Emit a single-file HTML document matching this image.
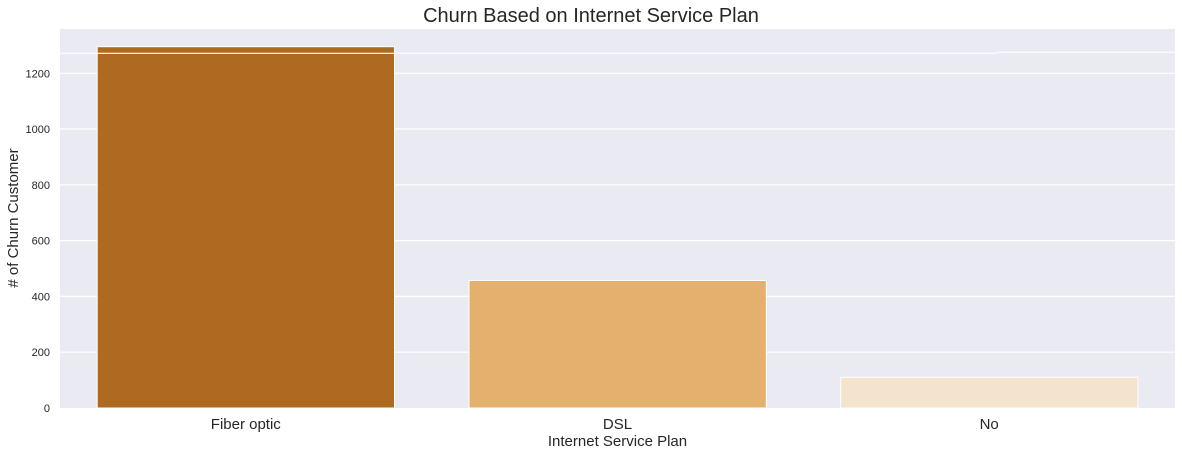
<!DOCTYPE html>
<html><head><meta charset="utf-8"><style>
html,body{margin:0;padding:0;background:#fff;}
body{width:1182px;height:457px;overflow:hidden;}
</style></head><body>
<svg width="1182" height="457" xmlns="http://www.w3.org/2000/svg" font-family="Liberation Sans, sans-serif">
<rect x="60" y="29" width="1115" height="379" fill="#eaeaf2"/>
<g stroke="#fff" stroke-width="1.2">
<line x1="60" x2="1175" y1="352.2" y2="352.2"/>
<line x1="60" x2="1175" y1="296.4" y2="296.4"/>
<line x1="60" x2="1175" y1="240.6" y2="240.6"/>
<line x1="60" x2="1175" y1="184.8" y2="184.8"/>
<line x1="60" x2="1175" y1="129" y2="129"/>
<line x1="60" x2="1175" y1="73.3" y2="73.3"/>
<line x1="60" x2="998" y1="53.3" y2="53.3"/>
<line x1="998" x2="1175" y1="52.3" y2="52.3"/>
</g>
<g stroke="#fff" stroke-width="1">
<rect x="97.2" y="46.7" width="297.3" height="361.3" fill="#af6a22"/>
<rect x="469" y="280.5" width="297.3" height="127.5" fill="#e4b06d"/>
<rect x="840.7" y="377.3" width="297.3" height="30.7" fill="#f4e3cd"/>
</g>
<line x1="97.2" x2="394.5" y1="53.3" y2="53.3" stroke="#fff" stroke-width="1.2"/>
<g font-size="11" fill="#262626" text-anchor="end">
<text x="50" y="412">0</text>
<text x="50" y="356.2">200</text>
<text x="50" y="300.4">400</text>
<text x="50" y="244.6">600</text>
<text x="50" y="188.8">800</text>
<text x="50" y="133">1000</text>
<text x="50" y="77.3">1200</text>
</g>
<g font-size="15" fill="#262626" text-anchor="middle">
<text x="245.8" y="429">Fiber optic</text>
<text x="617.5" y="429">DSL</text>
<text x="989.2" y="429">No</text>
<text x="617.5" y="446">Internet Service Plan</text>
<text transform="translate(18,218) rotate(-90)">#  of Churn Customer</text>
<text x="591" y="22" font-size="20">Churn Based on Internet Service Plan</text>
</g>
</svg>
</body></html>
